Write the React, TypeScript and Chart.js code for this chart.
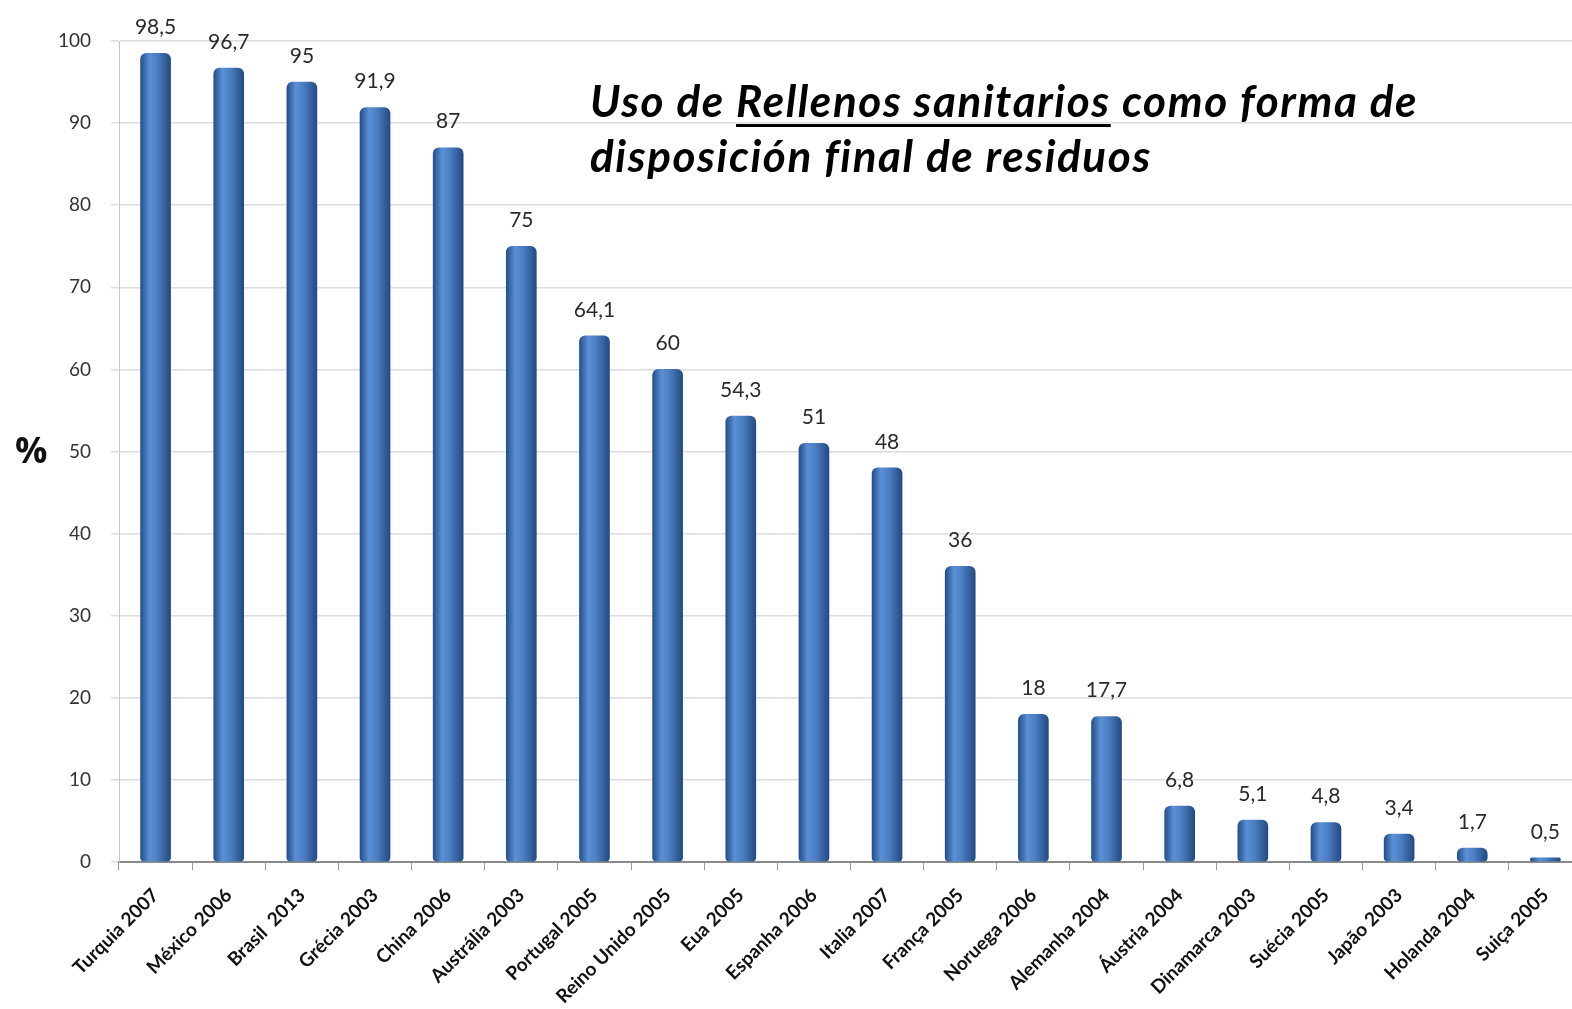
import React, { useEffect, useRef } from "react";
import { Chart, registerables } from "chart.js";

Chart.register(...registerables);

const categories = [
  "Turquia 2007", "México 2006", "Brasil  2013", "Grécia 2003", "China 2006",
  "Austrália 2003", "Portugal 2005", "Reino Unido 2005", "Eua 2005", "Espanha 2006",
  "Italia 2007", "França 2005", "Noruega 2006", "Alemanha 2004", "Áustria 2004",
  "Dinamarca 2003", "Suécia 2005", "Japão 2003", "Holanda 2004", "Suiça 2005",
];
const values = [98.5, 96.7, 95, 91.9, 87, 75, 64.1, 60, 54.3, 51, 48, 36, 18, 17.7, 6.8, 5.1, 4.8, 3.4, 1.7, 0.5];
const yTicks = [0, 10, 20, 30, 40, 50, 60, 70, 80, 90, 100];

const valueLabels = {
  id: "valueLabels",
  afterDatasetsDraw(chart: any) {
    const ctx = chart.ctx;
    const meta = chart.getDatasetMeta(0);
    ctx.save();
    ctx.font = "21px Lato";
    ctx.fillStyle = "#2a2a2a";
    ctx.textAlign = "center";
    ctx.textBaseline = "middle";
    meta.data.forEach((bar: any, i: number) => {
      const v = chart.data.datasets[0].data[i];
      ctx.fillText(String(v).replace(".", ","), bar.x, bar.y - 26);
    });
    ctx.restore();
  },
};

function barFill(c: any) {
  const chart = c.chart;
  if (c.dataIndex === undefined || !chart.scales || !chart.scales.x) return "#4a7ebf";
  const x = chart.scales.x.getPixelForValue(c.dataIndex);
  if (!isFinite(x)) return "#4a7ebf";
  const g = chart.ctx.createLinearGradient(x - 15, 0, x + 15, 0);
  g.addColorStop(0, "#254f8c");
  g.addColorStop(0.3, "#5b90d5");
  g.addColorStop(0.55, "#4c7fc3");
  g.addColorStop(1, "#234a82");
  return g;
}

export default function App() {
  const ref = useRef<HTMLCanvasElement>(null);
  useEffect(() => {
    const chart = new Chart(ref.current as HTMLCanvasElement, {
      type: "bar",
      data: {
        labels: categories,
        datasets: [
          {
            data: values,
            backgroundColor: barFill as any,
            barThickness: 30,
            borderRadius: { topLeft: 6, topRight: 6, bottomLeft: 4, bottomRight: 4 },
            borderSkipped: false,
          },
        ],
      },
      options: {
        responsive: false,
        animation: false,
        layout: { padding: { top: 41, right: 18, left: 0, bottom: 0 } },
        plugins: { legend: { display: false }, tooltip: { enabled: false } },
        scales: {
          x: {
            grid: { drawOnChartArea: false, drawTicks: true, tickLength: 8, color: "#9a9a9a", offset: true },
            border: { color: "#8a8a8a", width: 2 },
            ticks: {
              minRotation: 45,
              maxRotation: 45,
              autoSkip: false,
              font: { family: "Lato", size: 19, weight: "bold" },
              color: "#111",
              padding: 14,
            },
            afterFit: (s: any) => { s.height = 147; },
          },
          y: {
            min: 0,
            max: 100,
            afterBuildTicks: (s: any) => { s.ticks = yTicks.map((v) => ({ value: v })); },
            grid: { color: "#dcdcdc", lineWidth: 1.5, tickLength: 8 },
            border: { color: "#c8c8c8" },
            ticks: { font: { family: "Lato", size: 19 }, color: "#333", padding: 20 },
            afterFit: (s: any) => { s.width = 119; },
          },
        },
      },
      plugins: [valueLabels],
    });
    return () => chart.destroy();
  }, []);

  return (
    <div style={{ position: "fixed", left: 0, top: 0, width: 1572, height: 1009, overflow: "hidden", background: "#fff" }}>
      <canvas ref={ref} width={1600} height={1009} style={{ position: "absolute", left: 0, top: 0 }} />
      <div
        style={{
          position: "absolute", left: 15, top: 425, fontFamily: "'Open Sans', sans-serif",
          fontWeight: 700, fontSize: 36, lineHeight: "50px", color: "#111",
        }}
      >
        %
      </div>
      <div
        style={{
          position: "absolute", left: 590, top: 73, fontFamily: "Lato, sans-serif", fontStyle: "italic",
          fontWeight: 700, fontSize: 44, lineHeight: "55px", letterSpacing: "1.6px", color: "#000", whiteSpace: "nowrap",
        }}
      >
        Uso de <u style={{ textUnderlineOffset: "7px", textDecorationThickness: "2.5px" }}>Rellenos sanitarios</u> como forma de
        <br />
        disposición final de residuos
      </div>
    </div>
  );
}
